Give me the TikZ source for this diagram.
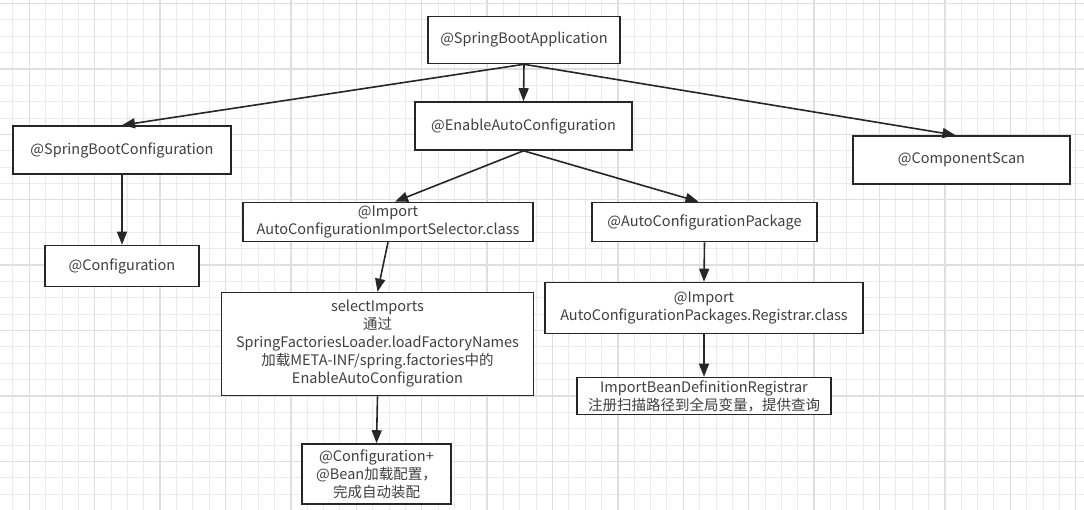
\documentclass[tikz,border=0pt]{standalone}
\usepackage{fontspec}
\setmainfont{Noto Sans CJK SC}
\usetikzlibrary{arrows.meta}
\definecolor{ink900} {HTML}{262626}
\definecolor{ink700} {HTML}{3F3F3F}
\definecolor{grid100}{HTML}{EAEAEA}
\definecolor{grid200}{HTML}{DEDEDE}
\tikzset{
  anno/.style   ={draw=ink900, line width=1.6pt, fill=white, align=center,
                  inner sep=2pt, text=ink700,
                  font=\fontsize{14.5}{18}\selectfont},
  ar/.style     ={-{Triangle[length=13pt,width=10pt]}, draw=ink900,
                  line width=1.6pt},
  gridmin/.style={draw=grid100, line width=1pt},
  gridmaj/.style={draw=grid200, line width=1.4pt}
}

\begin{document}
\begin{tikzpicture}[x=1pt,y=-1pt]
\fill[white] (0,0) rectangle (1084,510);
\useasboundingbox (0,0) rectangle (1084,510);
% paper grid behind the boxes
\foreach \gx in {0,...,65} \draw[gridmin] ({12.95+16.35*\gx},0) -- ++(0,510);
\foreach \gy in {0,...,30} \draw[gridmin] (0,{3.6+16.35*\gy}) -- ++(1084,0);
\foreach \gx in {0,...,16} \draw[gridmaj] ({29.3+65.4*\gx},0) -- ++(0,510);
\foreach \gy in {0,...,7}  \draw[gridmaj] (0,{3.6+65.4*\gy}) -- ++(1084,0);

\node[anno, minimum width=192pt, minimum height=47pt] (app)   at (524,40)
  {@SpringBootApplication};
\node[anno, minimum width=218pt, minimum height=48pt] (sbc)   at (122,150)
  {@SpringBootConfiguration};
\node[anno, minimum width=217pt, minimum height=48pt] (eac)   at (523.5,126)
  {@EnableAutoConfiguration};
\node[anno, minimum width=217pt, minimum height=48pt] (cscan) at (961.5,160)
  {@ComponentScan};
\node[anno, minimum width=154pt, minimum height=41pt] (cfg)   at (122,266)
  {@Configuration};
\node[anno, minimum width=290pt, minimum height=39pt] (isel)  at (388,222)
  {@Import\\ AutoConfigurationImportSelector.class};
\node[anno, minimum width=225pt, minimum height=39pt] (acp)   at (704.5,222)
  {@AutoConfigurationPackage};
\node[anno, minimum width=312pt, minimum height=103pt] (sel)  at (377.5,344)
  {selectImports\\ 通过\\ SpringFactoriesLoader.loadFactoryNames\\
   加载META-INF/spring.factories中的\\ EnableAutoConfiguration};
\node[anno, minimum width=318pt, minimum height=51pt] (reg)   at (704,308)
  {@Import\\ AutoConfigurationPackages.Registrar.class};
\node[anno, minimum width=254pt, minimum height=37pt] (ibdr)  at (704,396)
  {ImportBeanDefinitionRegistrar\\ 注册扫描路径到全局变量，提供查询};
\node[anno, minimum width=149pt, minimum height=60pt] (cfgp)  at (376.5,474)
  {@Configuration+\\ @Bean加载配置，\\ 完成自动装配};

\draw[ar] (app.south) -- (eac.north);
\draw[ar] (app.south) -- (sbc.north);
\draw[ar] (app.south) -- ([xshift=-6pt]cscan.north);
\draw[ar] (eac.south) -- ([xshift=7pt]isel.north);
\draw[ar] (eac.south) -- ([xshift=-6pt]acp.north);
\draw[ar] (sbc.south) -- (cfg.north);
\draw[ar] (isel.south) -- (sel.north);
\draw[ar] (sel.south) -- (cfgp.north);
\draw[ar] (acp.south) -- (reg.north);
\draw[ar] (reg.south) -- (ibdr.north);
\end{tikzpicture}
\end{document}
